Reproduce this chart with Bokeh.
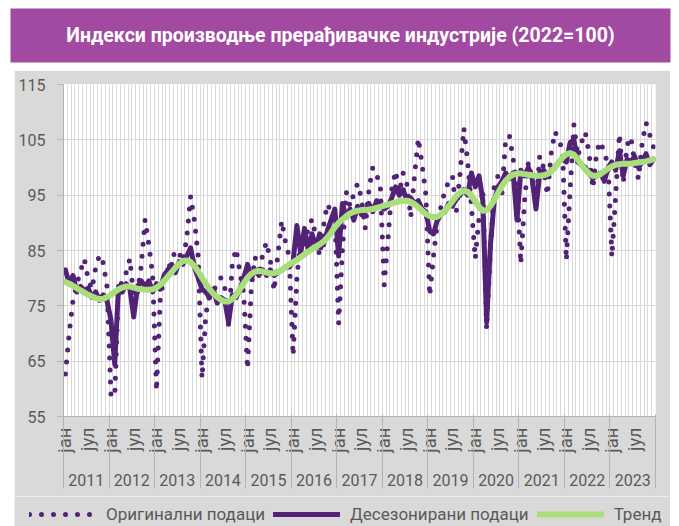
from math import pi
from bokeh.plotting import figure
from bokeh.models import (Range1d, LinearAxis, FixedTicker, Grid, Legend,
                          LegendItem, Spacer)
from bokeh.layouts import column, row
from bokeh.core.properties import value
from bokeh.embed import file_html
from bokeh.resources import INLINE

# ---------------- data ----------------
title_text = "Индекси производње прерађивачке индустрије (2022=100)"
years = ["2011", "2012", "2013", "2014", "2015", "2016", "2017",
         "2018", "2019", "2020", "2021", "2022", "2023"]
month_tick_labels = ["јан", "јул"]
y_ticks = [55, 65, 75, 85, 95, 105, 115]
series_names = ["Оригинални подаци", "Десезонирани подаци", "Тренд"]

# monthly values, Jan 2011 - Dec 2023
original = [
    62.7, 70.0, 76.0, 78.9, 81.3, 83.5, 79.8, 78.0, 82.0, 84.2, 82.7, 78.3,
    59.0, 58.5, 78.6, 79.2, 81.0, 83.5, 76.5, 77.5, 82.3, 90.6, 86.0, 80.5,
    59.6, 76.5, 80.0, 81.6, 83.0, 85.1, 84.5, 83.0, 87.5, 94.8, 90.4, 84.0,
    61.9, 73.5, 77.0, 78.0, 78.5, 80.1, 78.3, 71.5, 82.8, 85.3, 81.0, 77.1,
    63.6, 78.5, 83.8, 80.5, 84.4, 86.5, 83.2, 77.7, 84.4, 90.4, 86.5, 83.8,
    66.0, 80.0, 87.0, 86.0, 89.0, 90.7, 87.5, 84.0, 89.3, 93.4, 92.0, 91.7,
    71.8, 85.0, 95.6, 93.0, 95.3, 97.1, 94.5, 89.0, 96.1, 100.0, 98.8, 96.5,
    78.8, 87.0, 96.0, 99.4, 95.5, 99.0, 97.0, 91.0, 98.5, 105.3, 100.5, 95.0,
    76.8, 84.0, 90.0, 93.0, 95.8, 97.5, 98.5, 92.0, 99.0, 107.1, 101.0, 93.0,
    83.5, 91.0, 96.0, 70.8, 85.0, 96.7, 98.5, 94.9, 105.0, 105.8, 101.5, 97.0,
    82.6, 94.0, 101.0, 98.0, 93.0, 102.1, 100.0, 95.0, 102.5, 106.5, 105.0, 103.2,
    83.2, 96.0, 107.7, 102.0, 104.5, 106.4, 102.5, 96.2, 102.9, 104.7, 102.6, 100.6,
    83.8, 95.0, 106.1, 97.2, 104.0, 105.5, 101.0, 97.9, 104.5, 108.1, 105.9, 103.6,
]

seasonally_adjusted = [
    81.5, 79.0, 80.5, 77.5, 78.5, 77.8, 78.2, 76.5, 77.5, 76.0, 77.0, 75.8,
    72.5, 64.5, 78.5, 77.5, 79.0, 78.0, 73.0, 78.5, 79.5, 78.5, 79.5, 77.5,
    79.0, 78.0, 80.5, 81.5, 82.5, 81.0, 83.0, 82.5, 84.0, 85.5, 82.0, 80.0,
    78.0, 77.5, 76.5, 78.0, 75.5, 76.5, 76.0, 72.0, 77.0, 76.5, 78.0, 80.0,
    82.5, 80.0, 81.5, 80.5, 81.5, 80.5, 81.5, 80.5, 81.0, 81.5, 82.0, 82.0,
    83.0, 89.5, 84.5, 89.0, 85.0, 88.0, 85.5, 88.0, 86.0, 88.5, 90.5, 92.5,
    84.0, 93.5, 91.0, 92.5, 90.5, 93.0, 91.5, 92.0, 93.5, 92.0, 94.0, 93.0,
    92.5, 93.0, 94.5, 96.5, 95.0, 96.0, 94.0, 94.5, 93.5, 94.0, 92.5, 92.0,
    88.5, 88.0, 90.5, 91.5, 92.0, 93.5, 93.0, 94.5, 95.0, 96.0, 95.0, 99.0,
    96.5, 98.5, 94.0, 72.0, 86.0, 94.0, 96.5, 97.5, 99.0, 98.0, 99.0, 90.5,
    99.5, 98.5, 100.0, 98.0, 92.5, 99.0, 99.5, 98.5, 99.5, 100.0, 101.0, 101.5,
    101.0, 104.5, 105.0, 101.0, 100.5, 100.0, 99.0, 98.0, 98.5, 99.0, 97.5, 100.0,
    101.0, 99.5, 103.0, 98.5, 101.5, 101.0, 102.0, 100.0, 101.0, 102.5, 100.5, 101.5,
]

trend = [
    79.3, 79.0, 78.6, 78.2, 77.8, 77.4, 77.0, 76.7, 76.4, 76.2, 76.3, 76.6,
    77.0, 77.5, 78.0, 78.3, 78.5, 78.5, 78.3, 78.1, 78.0, 77.9, 77.9, 78.0,
    78.3, 78.8, 79.5, 80.3, 81.1, 81.9, 82.6, 83.1, 83.2, 82.9, 82.2, 81.2,
    80.1, 79.0, 78.0, 77.2, 76.6, 76.1, 75.8, 75.8, 76.2, 77.0, 78.0, 79.1,
    80.1, 80.8, 81.2, 81.3, 81.2, 81.0, 80.9, 80.9, 81.1, 81.5, 82.0, 82.5,
    82.9, 83.3, 83.8, 84.3, 84.8, 85.3, 85.7, 86.1, 86.6, 87.3, 88.2, 89.2,
    90.0, 90.6, 91.2, 91.7, 92.0, 92.2, 92.3, 92.3, 92.4, 92.5, 92.7, 92.9,
    93.1, 93.3, 93.5, 93.7, 93.9, 94.0, 94.0, 93.8, 93.4, 92.8, 92.2, 91.6,
    91.2, 91.0, 91.1, 91.5, 92.2, 93.0, 93.9, 94.8, 95.5, 95.8, 95.6, 94.9,
    93.9, 92.9, 92.2, 92.3, 93.0, 94.1, 95.4, 96.6, 97.6, 98.3, 98.7, 98.9,
    98.9, 98.8, 98.7, 98.6, 98.5, 98.5, 98.6, 98.8, 99.3, 100.0, 100.9, 101.8,
    102.4, 102.6, 102.3, 101.5, 100.5, 99.6, 98.9, 98.5, 98.5, 98.8, 99.3, 99.8,
    100.2, 100.5, 100.6, 100.7, 100.7, 100.7, 100.8, 100.9, 101.0, 101.1, 101.3, 101.5,
]

# ---------------- style ----------------
FONT = "Roboto"
BANNER = "#a24aa2"
PURPLE = "#522277"
GREEN = "#a9df7b"
PANEL = "#d9d9d9"
GRIDC = "#d9d9d9"
AXISC = "#b3b3b3"
TEXTC = "#595959"

n = len(original)
x = [i + 0.5 for i in range(n)]

# ---------------- banner ----------------
ban = figure(width=671, height=70, x_range=Range1d(0, 1), y_range=Range1d(0, 1),
             toolbar_location=None, output_backend="svg",
             x_axis_location=None, y_axis_location=None,
             min_border_left=10, min_border_right=1, min_border_top=8,
             min_border_bottom=8)
ban.background_fill_color = BANNER
ban.border_fill_color = "white"
ban.outline_line_color = None
ban.xgrid.visible = False
ban.ygrid.visible = False
ban.text(x=[0.5], y=[0.5], text=[title_text], text_align="center",
         text_baseline="middle", text_color="white",
         text_font=value(FONT), text_font_style="bold", text_font_size="19.5px")

# ---------------- main chart ----------------
p = figure(frame_width=592, frame_height=332,
           x_range=Range1d(0, n), y_range=Range1d(55, 115),
           toolbar_location=None, output_backend="svg",
           x_axis_location=None, y_axis_location=None,
           min_border_left=49, min_border_right=15, min_border_top=14,
           min_border_bottom=80)
p.background_fill_color = "white"
p.border_fill_color = PANEL
p.outline_line_color = None
p.xgrid.visible = False
p.ygrid.visible = False

p.add_layout(Grid(dimension=0, ticker=FixedTicker(ticks=list(range(0, n + 1))),
                  grid_line_color=GRIDC, grid_line_width=1))
p.add_layout(Grid(dimension=1, ticker=FixedTicker(ticks=y_ticks),
                  grid_line_color=GRIDC, grid_line_width=1))

yax = LinearAxis(ticker=FixedTicker(ticks=y_ticks),
                 axis_line_color=AXISC, major_tick_line_color=AXISC,
                 major_tick_out=6, major_tick_in=0, minor_tick_line_color=None,
                 major_label_standoff=12, major_label_text_font=FONT,
                 major_label_text_font_size="16px", major_label_text_color=TEXTC)
p.add_layout(yax, "left")

m_ticks, m_over = [], {}
for k in range(len(years)):
    for j, lab in zip((0, 6), month_tick_labels):
        t = 12 * k + j + 0.5
        m_ticks.append(t)
        m_over[t] = lab
xax_m = LinearAxis(ticker=FixedTicker(ticks=m_ticks), major_label_overrides=m_over,
                   major_label_orientation=pi / 2,
                   axis_line_color=AXISC, major_tick_line_color=None,
                   major_tick_out=0, major_tick_in=0,
                   minor_tick_line_color=None, minor_tick_out=0, minor_tick_in=0,
                   major_label_standoff=11, major_label_text_font=FONT,
                   major_label_text_font_size="18.5px", major_label_text_color=TEXTC)
p.add_layout(xax_m, "below")

y_ticks_x = [12 * k + 6 for k in range(len(years))]
xax_y = LinearAxis(ticker=FixedTicker(ticks=y_ticks_x),
                   major_label_overrides={t: years[k] for k, t in enumerate(y_ticks_x)},
                   axis_line_color=None, major_tick_line_color=None,
                   major_tick_out=0, major_tick_in=0,
                   minor_tick_line_color=None, minor_tick_out=0, minor_tick_in=0,
                   major_label_standoff=18, major_label_text_font=FONT,
                   major_label_text_font_size="16px", major_label_text_color=TEXTC)
p.add_layout(xax_y, "below")

edges = [12 * k for k in range(len(years) + 1)]
xax_e = LinearAxis(ticker=FixedTicker(ticks=edges),
                   major_label_overrides={t: "" for t in edges},
                   axis_line_color=None, major_tick_line_color=AXISC,
                   major_tick_out=0, major_tick_in=74,
                   minor_tick_line_color=None, minor_tick_out=0, minor_tick_in=0,
                   major_label_standoff=0, major_label_text_font_size="1px")
p.add_layout(xax_e, "below")

p.line(x, original, line_color=PURPLE, line_width=5, line_dash="0 12",
       line_cap="round", line_join="round")
p.line(x, seasonally_adjusted, line_color=PURPLE, line_width=5,
       line_cap="round", line_join="round")
p.line(x, trend, line_color=GREEN, line_width=6,
       line_cap="round", line_join="round")

# ---------------- legend strip (same series, outside its visible range) ----------------
lg = figure(width=656, height=30, x_range=Range1d(0, 656), y_range=Range1d(0, 30),
            toolbar_location=None, output_backend="svg",
            x_axis_location=None, y_axis_location=None,
            min_border_left=0, min_border_right=0, min_border_top=0,
            min_border_bottom=0)
lg.background_fill_color = PANEL
lg.border_fill_color = PANEL
lg.outline_line_color = None
lg.xgrid.visible = False
lg.ygrid.visible = False
k_orig = lg.line(x, original, line_color=PURPLE, line_width=5, line_dash="0 12",
                 line_cap="round")
k_sa = lg.line(x, seasonally_adjusted, line_color=PURPLE, line_width=5,
               line_cap="round")
k_tr = lg.line(x, trend, line_color=GREEN, line_width=6, line_cap="round")
legend = Legend(items=[LegendItem(label=series_names[0], renderers=[k_orig]),
                       LegendItem(label=series_names[1], renderers=[k_sa]),
                       LegendItem(label=series_names[2], renderers=[k_tr])],
                orientation="horizontal", location=(15, 2),
                glyph_width=67, glyph_height=20, label_height=20,
                label_standoff=10, spacing=8, padding=0, margin=0,
                border_line_color=None, background_fill_alpha=0,
                label_text_font=FONT, label_text_font_size="17px",
                label_text_color=TEXTC)
lg.add_layout(legend, "center")

layout = column(ban, row(Spacer(width=14), p), row(Spacer(width=14), lg))

open("out.html", "w").write(file_html(layout, INLINE))
